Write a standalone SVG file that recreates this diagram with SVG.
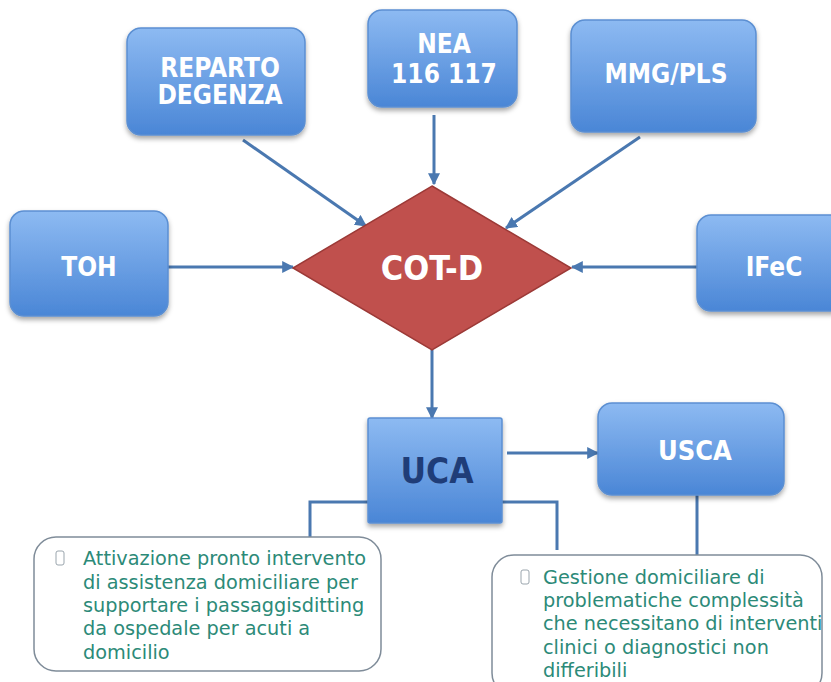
<svg xmlns="http://www.w3.org/2000/svg" width="831" height="682" viewBox="0 0 831 682">
<defs>
<linearGradient id="gb" x1="0" y1="0" x2="0" y2="1">
<stop offset="0" stop-color="#8dbaf2"/>
<stop offset="1" stop-color="#4a86d6"/>
</linearGradient>
<filter id="sh" x="-20%" y="-20%" width="140%" height="150%">
<feDropShadow dx="0" dy="3" stdDeviation="2.5" flood-color="#000" flood-opacity="0.35"/>
</filter>
<marker id="ah" viewBox="0 0 10 10" refX="9" refY="5" markerWidth="4" markerHeight="4" orient="auto" markerUnits="strokeWidth">
<path d="M0,0 L10,5 L0,10 z" fill="#4a78b0"/>
</marker>
<style>
.box{fill:url(#gb);stroke:#5b8fd2;stroke-width:1.5;filter:url(#sh)}
.lbl{font-family:"DejaVu Sans Condensed","DejaVu Sans",sans-serif;font-stretch:condensed;font-weight:bold;fill:#fff;text-anchor:middle;dominant-baseline:central}
.con{stroke:#4a78b0;stroke-width:3;fill:none}
.arr{marker-end:url(#ah)}
.note{fill:#fff;stroke:#7f8c99;stroke-width:1.5}
.nt{font-family:"DejaVu Sans",sans-serif;font-size:19.3px;fill:#2c8a78}
.bul{fill:#fff;stroke:#9aa5ad;stroke-width:1}
</style>
</defs>
<rect width="831" height="682" fill="#fff"/>
<g id="connectors">
<line class="con arr" x1="243" y1="140" x2="366" y2="226"/>
<line class="con arr" x1="434" y1="115" x2="434" y2="184"/>
<line class="con arr" x1="640" y1="137" x2="506" y2="228"/>
<line class="con arr" x1="168" y1="267" x2="293" y2="267"/>
<line class="con arr" x1="697" y1="267" x2="572" y2="267"/>
<line class="con arr" x1="432" y1="350" x2="432" y2="418"/>
<line class="con arr" x1="507" y1="453" x2="598" y2="453"/>
<polyline class="con" points="368,502 310,502 310,537"/>
<polyline class="con" points="502,502 557,502 557,550"/>
<line class="con" x1="697" y1="495" x2="697" y2="555"/>
</g>
<g id="reparto">
<rect class="box" x="127" y="28" width="178" height="107" rx="14"/>
<text class="lbl" x="220" y="68" font-size="26">REPARTO</text>
<text class="lbl" x="220" y="95" font-size="26">DEGENZA</text>
</g>
<g id="nea">
<rect class="box" x="368" y="10" width="149" height="97" rx="14"/>
<text class="lbl" x="444" y="44" font-size="26">NEA</text>
<text class="lbl" x="444" y="74" font-size="26">116 117</text>
</g>
<g id="mmg">
<rect class="box" x="571" y="20" width="185" height="112" rx="14"/>
<text class="lbl" x="666" y="74" font-size="26">MMG/PLS</text>
</g>
<g id="toh">
<rect class="box" x="10" y="211" width="158" height="105" rx="14"/>
<text class="lbl" x="89" y="267" font-size="26">TOH</text>
</g>
<g id="ifec">
<rect class="box" x="697" y="215" width="150" height="96" rx="14"/>
<text class="lbl" x="774" y="267" font-size="26">IFeC</text>
</g>
<g id="cotd">
<polygon points="432,186 571,268 432,350 293,268" fill="#c0504d" stroke="#9c3a37" stroke-width="1.5"/>
<text class="lbl" x="432" y="268" font-size="34">COT-D</text>
</g>
<g id="uca">
<rect class="box" x="368" y="418" width="134" height="105" rx="2"/>
<text class="lbl" x="437" y="471" font-size="35" style="fill:#1f3d78">UCA</text>
</g>
<g id="usca">
<rect class="box" x="598" y="403" width="186" height="92" rx="14"/>
<text class="lbl" x="695" y="450" font-size="27">USCA</text>
</g>
<g id="note-uca">
<rect class="note" x="34" y="537" width="347" height="134" rx="22"/>
<rect class="bul" x="56" y="551" width="8" height="14" rx="2"/>
<text class="nt" x="83" y="565">Attivazione pronto intervento</text>
<text class="nt" x="83" y="589">di assistenza domiciliare per</text>
<text class="nt" x="83" y="612">supportare i passaggisditting</text>
<text class="nt" x="83" y="635">da ospedale per acuti a</text>
<text class="nt" x="83" y="659">domicilio</text>
</g>
<g id="note-usca">
<rect class="note" x="492" y="555" width="330" height="140" rx="22"/>
<rect class="bul" x="521" y="570" width="8" height="14" rx="2"/>
<text class="nt" x="543" y="584">Gestione domiciliare di</text>
<text class="nt" x="543" y="607">problematiche complessità</text>
<text class="nt" x="543" y="630">che necessitano di interventi</text>
<text class="nt" x="543" y="654">clinici o diagnostici non</text>
<text class="nt" x="543" y="677">differibili</text>
</g>
</svg>
